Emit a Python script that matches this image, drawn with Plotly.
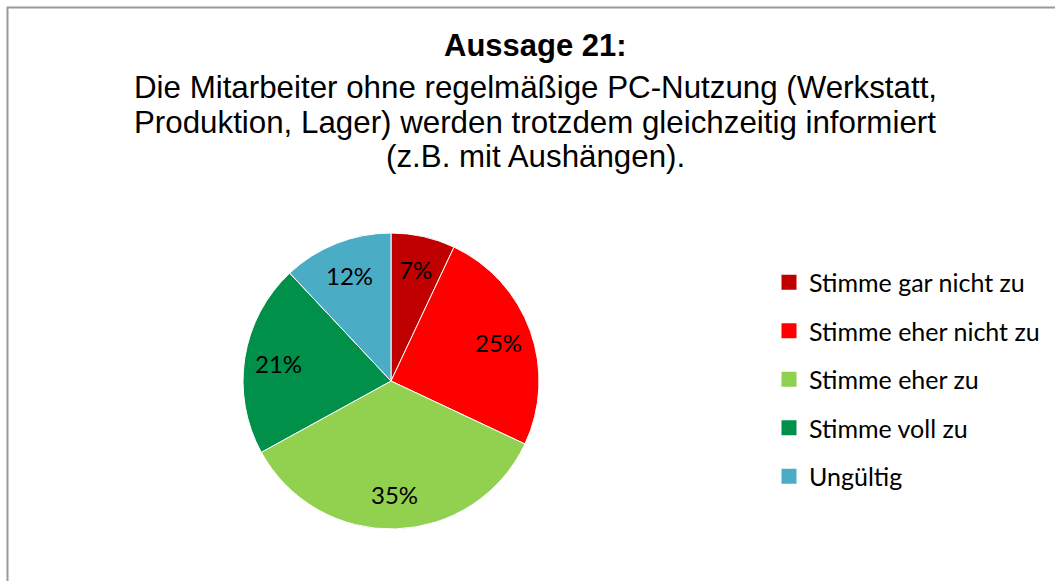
import math
import plotly.graph_objects as go

categories = ["Stimme gar nicht zu", "Stimme eher nicht zu", "Stimme eher zu",
              "Stimme voll zu", "Ungültig"]
values = [7, 25, 35, 21, 12]
colors = ["#C00000", "#FF0000", "#92D050", "#00904A", "#4BACC6"]
title_bold = "Aussage 21:"
title_lines = ["Die Mitarbeiter ohne regelmäßige PC-Nutzung (Werkstatt,",
               "Produktion, Lager) werden trotzdem gleichzeitig informiert",
               "(z.B. mit Aushängen)."]

W, H = 1055, 581
cx, cy, r = 391, 381, 148

fig = go.Figure()
fig.add_trace(go.Pie(
    labels=categories, values=values, sort=False, direction="clockwise",
    rotation=0, marker=dict(colors=colors, line=dict(color="white", width=1)),
    textinfo="none", showlegend=False, hoverinfo="label+percent",
    domain=dict(x=[(cx - r) / W, (cx + r) / W], y=[(H - cy - r) / H, (H - cy + r) / H]),
))
for i, (cat, col) in enumerate(zip(categories, colors)):
    fig.add_trace(go.Scatter(
        x=[None], y=[None], mode="markers", name=cat, legendgroup=f"g{i}",
        marker=dict(symbol="square", size=15, color=col),
    ))

# percentage labels placed at each slice's mid-angle
annotations = []
total = sum(values)
cum = 0
for v in values:
    mid = (cum + v / 2) / total * 2 * math.pi
    cum += v
    px = cx + 0.77 * r * math.sin(mid)
    py = cy - 0.77 * r * math.cos(mid)
    annotations.append(dict(text=f"{round(v / total * 100)}%", x=px / W, y=(H - py) / H,
                            xref="paper", yref="paper", xanchor="center", yanchor="middle",
                            showarrow=False,
                            font=dict(family="Lato", size=24, color="black")))

tfont = "Liberation Sans, Arial"
annotations.append(dict(text=f"<b>{title_bold}</b>", x=535 / W, y=(H - 45) / H,
                        xref="paper", yref="paper", xanchor="center", yanchor="middle",
                        showarrow=False, font=dict(family=tfont, size=31, color="black")))
for k, line in enumerate(title_lines):
    annotations.append(dict(text=line, x=535 / W, y=(H - (87.5 + 34.5 * k)) / H,
                            xref="paper", yref="paper", xanchor="center", yanchor="middle",
                            showarrow=False, font=dict(family=tfont, size=31.3, color="black")))

fig.update_layout(
    width=W, height=H, margin=dict(l=0, r=0, t=0, b=0),
    paper_bgcolor="white", plot_bgcolor="white",
    xaxis=dict(visible=False), yaxis=dict(visible=False),
    legend=dict(x=(809 - 40) / W, xanchor="left", y=(H - 259.5) / H, yanchor="top",
                font=dict(family="Lato", size=25, color="black"),
                tracegroupgap=13, bgcolor="rgba(0,0,0,0)"),
    shapes=[dict(type="rect", xref="paper", yref="paper",
                 x0=7.5 / W, x1=1.02, y0=-0.02, y1=(H - 7.5) / H,
                 line=dict(color="#9A9A9A", width=2), fillcolor="rgba(0,0,0,0)")],
    annotations=annotations,
)
fig.write_html("out.html", config={"displayModeBar": False},
               post_script="document.body.style.margin='0';")
